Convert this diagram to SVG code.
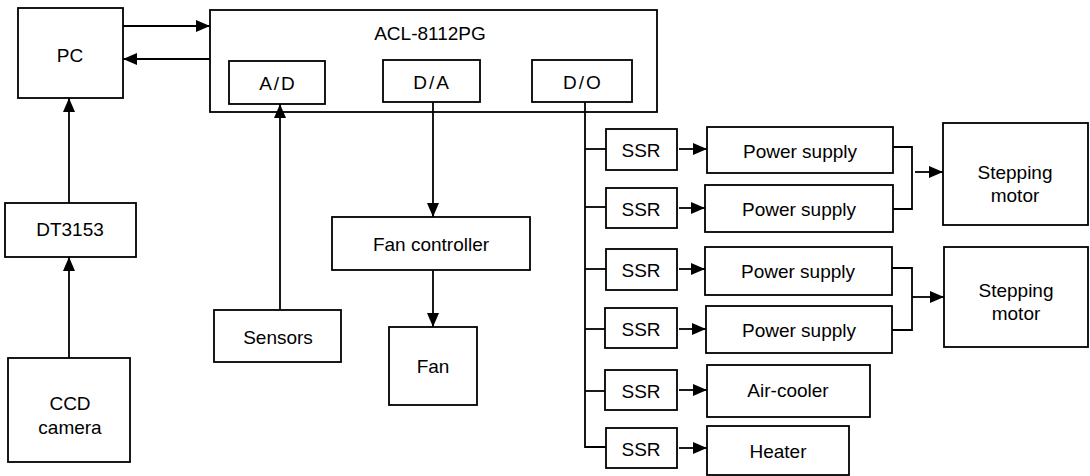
<svg xmlns="http://www.w3.org/2000/svg" width="1090" height="476" viewBox="0 0 1090 476">
<style>
rect{fill:#fff;stroke:#000;stroke-width:1.8}
text{font-family:"Liberation Sans",Arial,sans-serif;font-size:19px;fill:#000;text-anchor:middle;dominant-baseline:central}
.c path,.c line,.c polyline{fill:none;stroke:#000;stroke-width:1.8}
.sp{letter-spacing:2px}
</style>
<defs>
<marker id="ah" viewBox="0 0 14 12" refX="14" refY="6" markerWidth="14" markerHeight="12" markerUnits="userSpaceOnUse" orient="auto">
<path d="M0,0 L14,6 L0,12 Z" fill="#000"/>
</marker>
</defs>
<g id="pc"><rect x="18" y="8" width="105" height="90"/><text x="70" y="55">PC</text></g>
<g id="acl"><rect x="210" y="10" width="447" height="102"/><text x="430" y="33">ACL-8112PG</text></g>
<g id="ad"><rect x="229" y="61" width="96" height="43"/><text x="278" y="83" class="sp">A/D</text></g>
<g id="da"><rect x="383" y="60" width="97" height="42"/><text x="432" y="82" class="sp">D/A</text></g>
<g id="do"><rect x="532" y="60" width="100" height="42"/><text x="583" y="82" class="sp">D/O</text></g>
<g id="dt3153"><rect x="5" y="203" width="131" height="54"/><text x="70" y="229">DT3153</text></g>
<g id="ccd"><rect x="8" y="358" width="122" height="104"/><text x="70" y="403">CCD</text><text x="70" y="427">camera</text></g>
<g id="sensors"><rect x="214" y="310" width="127" height="52"/><text x="278" y="337">Sensors</text></g>
<g id="fanctrl"><rect x="332" y="217" width="198" height="53"/><text x="431" y="244">Fan controller</text></g>
<g id="fan"><rect x="389" y="327" width="88" height="78"/><text x="433" y="366">Fan</text></g>
<g id="ssr1"><rect x="606" y="129" width="71" height="41"/><text x="641" y="150">SSR</text></g>
<g id="ssr2"><rect x="606" y="188" width="71" height="40"/><text x="641" y="209">SSR</text></g>
<g id="ssr3"><rect x="606" y="249" width="71" height="41"/><text x="641" y="270">SSR</text></g>
<g id="ssr4"><rect x="605" y="308" width="72" height="40"/><text x="641" y="329">SSR</text></g>
<g id="ssr5"><rect x="605" y="370" width="72" height="40"/><text x="641" y="391">SSR</text></g>
<g id="ssr6"><rect x="606" y="428" width="71" height="40"/><text x="641" y="449">SSR</text></g>
<g id="ps1"><rect x="707" y="127" width="186" height="46"/><text x="800" y="151">Power supply</text></g>
<g id="ps2"><rect x="705" y="185" width="188" height="47"/><text x="799" y="209">Power supply</text></g>
<g id="ps3"><rect x="705" y="247" width="187" height="48"/><text x="798" y="271">Power supply</text></g>
<g id="ps4"><rect x="706" y="306" width="186" height="47"/><text x="799" y="330">Power supply</text></g>
<g id="aircooler"><rect x="707" y="365" width="163" height="52"/><text x="788" y="390">Air-cooler</text></g>
<g id="heater"><rect x="707" y="426" width="142" height="49"/><text x="778" y="451">Heater</text></g>
<g id="motor1"><rect x="943" y="123" width="145" height="102"/><text x="1015" y="172">Stepping</text><text x="1015" y="195">motor</text></g>
<g id="motor2"><rect x="944" y="247" width="144" height="100"/><text x="1016" y="290">Stepping</text><text x="1016" y="313">motor</text></g>
<g class="c" id="connectors">
<line x1="123" y1="26" x2="210" y2="26" marker-end="url(#ah)"/>
<line x1="210" y1="59" x2="123" y2="59" marker-end="url(#ah)"/>
<line x1="69" y1="203" x2="69" y2="98" marker-end="url(#ah)"/>
<line x1="69" y1="358" x2="69" y2="257" marker-end="url(#ah)"/>
<line x1="280" y1="310" x2="280" y2="104" marker-end="url(#ah)"/>
<line x1="433" y1="102" x2="433" y2="217" marker-end="url(#ah)"/>
<line x1="433" y1="270" x2="433" y2="327" marker-end="url(#ah)"/>
<polyline points="585,102 585,447 606,447"/>
<line x1="585" y1="149" x2="606" y2="149"/>
<line x1="585" y1="207" x2="606" y2="207"/>
<line x1="585" y1="269" x2="606" y2="269"/>
<line x1="585" y1="329" x2="605" y2="329"/>
<line x1="585" y1="391" x2="605" y2="391"/>
<line x1="679" y1="149" x2="707" y2="149" marker-end="url(#ah)"/>
<line x1="679" y1="208" x2="705" y2="208" marker-end="url(#ah)"/>
<line x1="679" y1="269" x2="705" y2="269" marker-end="url(#ah)"/>
<line x1="679" y1="329" x2="706" y2="329" marker-end="url(#ah)"/>
<line x1="679" y1="390" x2="707" y2="390" marker-end="url(#ah)"/>
<line x1="679" y1="448" x2="707" y2="448" marker-end="url(#ah)"/>
<polyline points="893,147 912,147 912,209 893,209"/>
<line x1="915" y1="172" x2="943" y2="172" marker-end="url(#ah)"/>
<polyline points="892,268 912,268 912,330 892,330"/>
<line x1="912" y1="297" x2="944" y2="297" marker-end="url(#ah)"/>
</g>
</svg>
